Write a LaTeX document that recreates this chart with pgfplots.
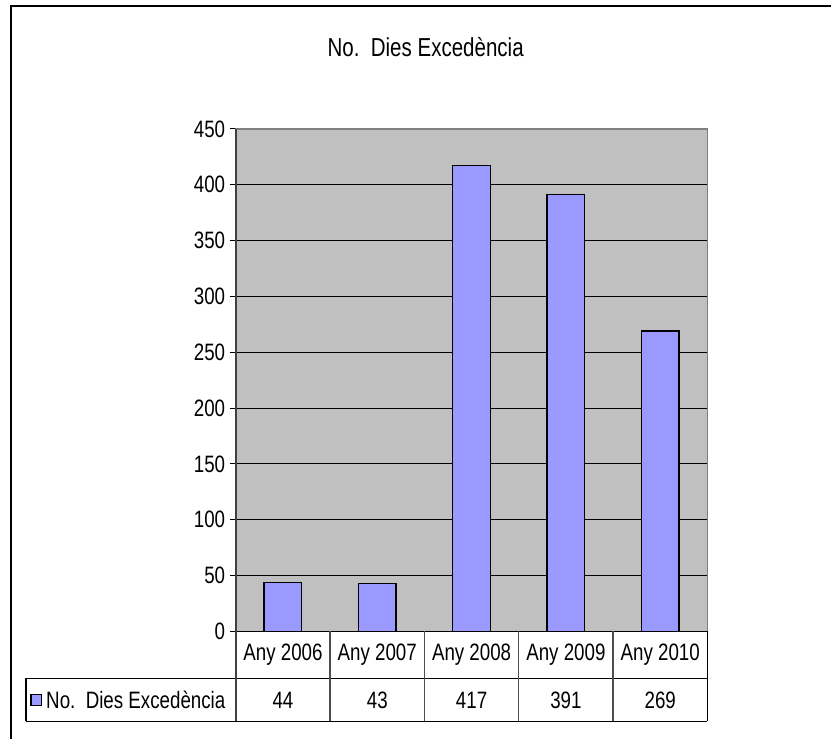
\documentclass[border=0pt]{standalone}
\usepackage{fontspec}
\setmainfont{Liberation Sans}[FakeStretch=0.79]
\usepackage{pgfplots}
\pgfplotsset{compat=1.18}
\definecolor{plotgray}{RGB}{192,192,192}
\definecolor{barblue}{RGB}{153,153,255}
\definecolor{frame}{RGB}{128,128,128}
\newcommand{\tfont}{\fontsize{17.8}{19}\selectfont}
\begin{document}
\begin{tikzpicture}[x=0.75pt,y=0.75pt]
\fill[white] (0,0) rectangle (832,740);
\draw[line width=1.1pt,black] (11,0) -- (11,734) -- (832,734);
\node[font=\fontsize{19.5}{21}\selectfont] at (426,693) {No.\ \ Dies Excedència};
\coordinate (A) at (236,108);
\begin{axis}[
  at={(A)}, anchor=south west,
  scale only axis, width=354pt, height=377.25pt,
  xmin=-0.5, xmax=4.5, ymin=0, ymax=450,
  xtick=\empty,
  ytick={0,50,...,450},
  ytick pos=left,
  tick align=outside,
  major tick length=4.5pt,
  tick style={black, line width=0.8pt},
  yticklabel style={font=\tfont},
  /pgf/number format/assume math mode=true,
  ymajorgrids, grid style={black, line width=0.8pt},
  axis background/.style={fill=plotgray},
  axis line style={draw=frame, line width=1.2pt},
  clip=false,
]
\addplot[ybar, bar width=0.4, fill=barblue, draw=black, line width=1pt]
  coordinates {(0,44) (1,43) (2,417) (3,391) (4,269)};
\end{axis}
% data table
\begin{scope}[line width=1pt]
\draw[black] (236,108) -- (708,108);
\draw[black] (26,61) -- (708,61);
\draw[black] (26,18) -- (708,18);
\draw[black] (26,61) -- (26,18);
\draw[frame!50!black, line width=1.2pt] (236,611) -- (236,18);
\foreach \x in {330.4,424.8,519.2,613.6}{\draw[frame!60!black] (\x,108) -- (\x,18);}
\draw[black] (708,108) -- (708,18);
\end{scope}
\foreach \x/\l in {283.2/Any 2006,377.6/Any 2007,472/Any 2008,566.4/Any 2009,660.8/Any 2010}{
  \node[font=\tfont] at (\x,84.5) {\l};}
\foreach \x/\l in {283.2/44,377.6/43,472/417,566.4/391,660.8/269}{
  \node[font=\tfont] at (\x,39.5) {\l};}
\draw[fill=barblue, draw=black, line width=0.8pt] (31,34) rectangle (42,45);
\node[font=\tfont, anchor=west, inner sep=0pt] at (46,39.5) {No.\ \ Dies Excedència};
\end{tikzpicture}
\end{document}
